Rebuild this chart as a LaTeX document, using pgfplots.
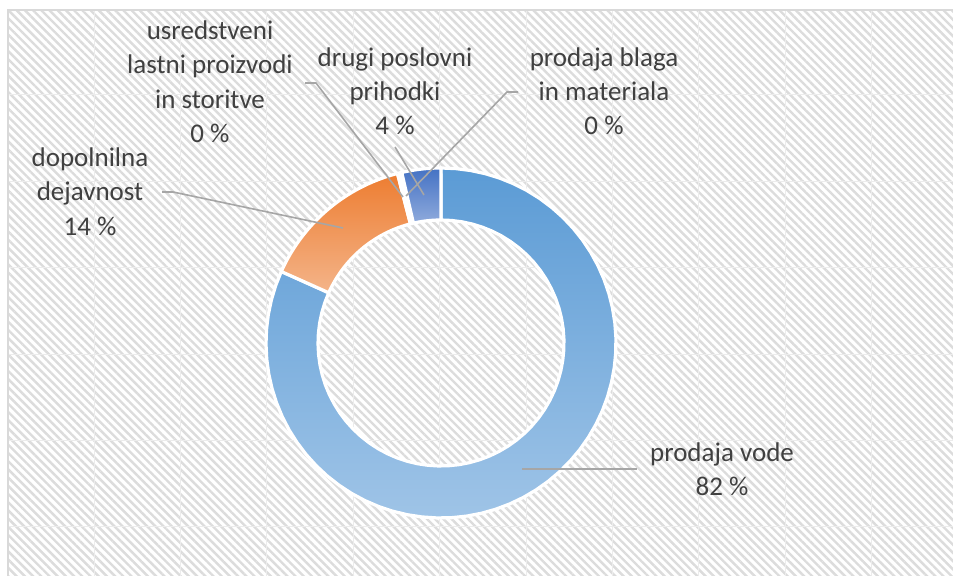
\documentclass[border=0pt]{standalone}
\usepackage{fontspec}
\setmainfont{Carlito}
\usepackage{pgfplots}
\pgfplotsset{compat=1.18}
\usepackage{pgfplotstable}
\usetikzlibrary{patterns.meta}

\definecolor{txt}{HTML}{404040}
\definecolor{leader}{HTML}{A6A6A6}
\definecolor{hatch}{HTML}{DCDCDC}
\definecolor{frame}{HTML}{D9D9D9}
\definecolor{seam}{HTML}{ECECEC}
\definecolor{blueA}{HTML}{5B9BD5}\definecolor{blueB}{HTML}{9FC4E7}
\definecolor{oraA}{HTML}{ED7D31}\definecolor{oraB}{HTML}{F4B489}
\definecolor{grayA}{HTML}{A5A5A5}\definecolor{grayB}{HTML}{C9C9C9}
\definecolor{goldA}{HTML}{FFC000}\definecolor{goldB}{HTML}{FFD966}
\definecolor{dblA}{HTML}{4472C4}\definecolor{dblB}{HTML}{8FAADC}

% shares of the donut (percent), in Excel series order, clockwise from 12 o'clock
\pgfplotstableread{
idx value
0 81.7
1 14.3
2 0.2
3 0.2
4 3.6
}\shares

\pgfplotstablegetelem{0}{value}\of\shares\pgfmathsetmacro\vA{\pgfplotsretval}
\pgfplotstablegetelem{1}{value}\of\shares\pgfmathsetmacro\vB{\pgfplotsretval}
\pgfplotstablegetelem{2}{value}\of\shares\pgfmathsetmacro\vC{\pgfplotsretval}
\pgfplotstablegetelem{3}{value}\of\shares\pgfmathsetmacro\vD{\pgfplotsretval}
\pgfplotstablegetelem{4}{value}\of\shares\pgfmathsetmacro\vE{\pgfplotsretval}
\pgfmathsetmacro\cA{0}
\pgfmathsetmacro\cB{\cA+\vA}
\pgfmathsetmacro\cC{\cB+\vB}
\pgfmathsetmacro\cD{\cC+\vC}
\pgfmathsetmacro\cE{\cD+\vD}
\pgfmathsetmacro\cF{\cE+\vE}

\def\CX{441}\def\CY{343}\def\RO{175}\def\RI{123}
% ring slice from #1 % to #2 % (clockwise from top)
\newcommand\ring[4]{%
  \pgfmathsetmacro\sa{90-3.6*#1}%
  \pgfmathsetmacro\sb{90-3.6*#2}%
  \addplot[top color=#3, bottom color=#4, draw=white, line width=1.6pt, line join=round,
    samples at={0,1,...,60,60.01,61,62,...,120,120.01}]
   ({\CX+((x<=60)?(\RO):((x<=120)?(\RI):(\RO)))*cos(((x<=60)?(\sa+(\sb-\sa)*x/60):(\sb+(\sa-\sb)*(x-60)/60)))},
    {\CY-((x<=60)?(\RO):((x<=120)?(\RI):(\RO)))*sin(((x<=60)?(\sa+(\sb-\sa)*x/60):(\sb+(\sa-\sb)*(x-60)/60)))});
}

\newcommand\lbl{\fontsize{13.5}{16}\selectfont}

\begin{document}
\begin{tikzpicture}
\begin{axis}[
  scale only axis, width=472.5pt, height=283pt,
  xmin=8, xmax=953, ymin=10, ymax=576, y dir=reverse,
  clip=false,
  axis line style={draw=none},
  major tick length=0pt,
  xtick={94,180.4,266.8,353.2,439.6,526,612.4,698.8,785.2,871.6},
  ytick={95,181.4,267.8,354.2,440.6,527},
  xticklabels={}, yticklabels={},
  grid=major, grid style={seam, line width=0.5pt},
  axis background/.style={fill=white, postaction={pattern={Lines[angle=-45,distance=2.9pt,line width=1.2pt]}, pattern color=hatch}},
]
\fill[white] (axis cs:0,0) rectangle (axis cs:953,10);
\fill[white] (axis cs:0,10) rectangle (axis cs:8,576);
\draw[frame, line width=0.8pt] (axis cs:8,576) -- (axis cs:8,10) -- (axis cs:953,10);
\coordinate (TL) at (axis cs:0,0);
\coordinate (BR) at (axis cs:953,576);

\ring{\cA}{\cB}{blueA}{blueB}
\ring{\cB}{\cC}{oraA}{oraB}
\ring{\cC}{\cD}{grayA}{grayB}
\ring{\cD}{\cE}{goldA}{goldB}
\ring{\cE}{\cF}{dblA}{dblB}

% leader lines
\addplot[leader, line width=0.8pt, no marks] coordinates {(522,469) (637,469)};
\addplot[leader, line width=0.8pt, no marks] coordinates {(162,192) (173,192) (343,228)};
\addplot[leader, line width=0.8pt, no marks] coordinates {(305,83) (316,83) (403,197)};
\addplot[leader, line width=0.8pt, no marks] coordinates {(518,92) (507,92) (406,196)};
\addplot[leader, line width=0.8pt, no marks] coordinates {(395,147) (424,195)};

% labels
\begin{scope}[every node/.style={anchor=base, text=txt, font=\lbl, inner sep=0pt}]
\node at (axis cs:210,40) {usredstveni};
\node at (axis cs:210,74) {lastni proizvodi};
\node at (axis cs:210,109) {in storitve};
\node at (axis cs:210,143) {0 \%};
\node at (axis cs:395,67) {drugi poslovni};
\node at (axis cs:395,101) {prihodki};
\node at (axis cs:395,135) {4 \%};
\node at (axis cs:604,67) {prodaja blaga};
\node at (axis cs:604,101) {in materiala};
\node at (axis cs:604,135) {0 \%};
\node at (axis cs:90,167) {dopolnilna};
\node at (axis cs:90,201) {dejavnost};
\node at (axis cs:90,236) {14 \%};
\node at (axis cs:722,462) {prodaja vode};
\node at (axis cs:722,496) {82 \%};
\end{scope}
\end{axis}
\pgfresetboundingbox
\path[use as bounding box] (TL) rectangle (BR);
\end{tikzpicture}
\end{document}
